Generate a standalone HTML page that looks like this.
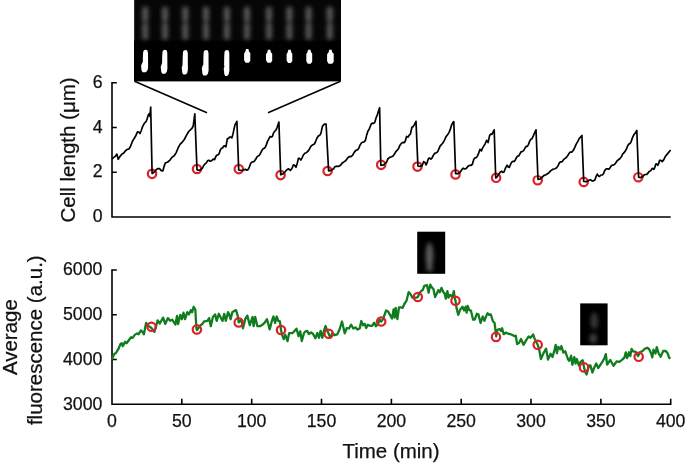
<!DOCTYPE html>
<html><head><meta charset="utf-8"><style>
html,body{margin:0;padding:0;background:#fff;}
svg{display:block;will-change:transform;}
text{font-family:"Liberation Sans",sans-serif;fill:#111;stroke:#111;stroke-width:0.25px;}
</style></head><body>
<svg width="685" height="465" viewBox="0 0 685 465">
<defs>
<filter id="bl" x="-50%" y="-50%" width="200%" height="200%"><feGaussianBlur stdDeviation="1.9"/></filter>
<filter id="bl2" x="-50%" y="-50%" width="200%" height="200%"><feGaussianBlur stdDeviation="0.45"/></filter>
<filter id="bl3" x="-50%" y="-50%" width="200%" height="200%"><feGaussianBlur stdDeviation="2"/></filter>
</defs>
<!-- image strip -->
<rect x="134" y="0" width="207" height="81.4" fill="#000"/>
<rect x="134" y="0" width="207" height="40.5" fill="#060606"/>
<rect x="134" y="0" width="1.2" height="40.5" fill="#2a2a2a"/>
<g filter="url(#bl)"><rect x="142.1" y="6.5" width="6.2" height="15.5" rx="3" fill="#555"/><rect x="142.1" y="22.5" width="6.2" height="14" rx="3" fill="#525252"/><ellipse cx="145.2" cy="37.5" rx="3.4" ry="1.8" fill="#5e5e5e"/><rect x="161.9" y="6.5" width="6.2" height="15.5" rx="3" fill="#555"/><rect x="161.9" y="22.5" width="6.2" height="14" rx="3" fill="#525252"/><ellipse cx="165.0" cy="37.5" rx="3.4" ry="1.8" fill="#5e5e5e"/><rect x="182.2" y="6.5" width="6.2" height="15.5" rx="3" fill="#555"/><rect x="182.2" y="22.5" width="6.2" height="14" rx="3" fill="#525252"/><ellipse cx="185.3" cy="37.5" rx="3.4" ry="1.8" fill="#5e5e5e"/><rect x="202.9" y="6.5" width="6.2" height="15.5" rx="3" fill="#555"/><rect x="202.9" y="22.5" width="6.2" height="14" rx="3" fill="#525252"/><ellipse cx="206.0" cy="37.5" rx="3.4" ry="1.8" fill="#5e5e5e"/><rect x="223.8" y="6.5" width="6.2" height="15.5" rx="3" fill="#555"/><rect x="223.8" y="22.5" width="6.2" height="14" rx="3" fill="#525252"/><ellipse cx="226.9" cy="37.5" rx="3.4" ry="1.8" fill="#5e5e5e"/><rect x="243.9" y="6.5" width="6.2" height="15.5" rx="3" fill="#555"/><rect x="243.9" y="22.5" width="6.2" height="14" rx="3" fill="#525252"/><ellipse cx="247.0" cy="37.5" rx="3.4" ry="1.8" fill="#5e5e5e"/><rect x="265.9" y="6.5" width="6.2" height="15.5" rx="3" fill="#555"/><rect x="265.9" y="22.5" width="6.2" height="14" rx="3" fill="#525252"/><ellipse cx="269.0" cy="37.5" rx="3.4" ry="1.8" fill="#5e5e5e"/><rect x="286.3" y="6.5" width="6.2" height="15.5" rx="3" fill="#555"/><rect x="286.3" y="22.5" width="6.2" height="14" rx="3" fill="#525252"/><ellipse cx="289.4" cy="37.5" rx="3.4" ry="1.8" fill="#5e5e5e"/><rect x="305.5" y="6.5" width="6.2" height="15.5" rx="3" fill="#555"/><rect x="305.5" y="22.5" width="6.2" height="14" rx="3" fill="#525252"/><ellipse cx="308.6" cy="37.5" rx="3.4" ry="1.8" fill="#5e5e5e"/><rect x="326.7" y="6.5" width="6.2" height="15.5" rx="3" fill="#555"/><rect x="326.7" y="22.5" width="6.2" height="14" rx="3" fill="#525252"/><ellipse cx="329.8" cy="37.5" rx="3.4" ry="1.8" fill="#5e5e5e"/></g>
<g filter="url(#bl2)"><path d="M144.0,50.2 L145.6,49.8 L147.3,50.3 L148.0,52.8 L148.1,67.7 L147.4,70.6 L145.8,72.2 L142.6,72.2 L141.6,70.6 L141.3,67.7 L141.0,65.9 L141.8,63.7 L142.8,62.1 L142.9,56.5 L143.2,51.8 Z" fill="#fff"/><path d="M163.3,50.2 L164.9,49.8 L166.6,50.3 L167.3,52.8 L167.4,69.0 L166.7,72.1 L165.1,73.8 L162.3,73.8 L161.3,72.1 L161.0,69.0 L160.7,67.1 L161.5,64.7 L162.1,63.0 L162.2,57.0 L162.5,51.8 Z" fill="#fff"/><path d="M183.8,50.5 L185.4,50.1 L187.1,50.6 L187.8,53.1 L187.9,69.7 L187.2,72.9 L185.6,74.6 L183.3,74.6 L182.3,72.9 L182.0,69.7 L181.7,67.7 L182.5,65.3 L182.6,62.3 L182.7,57.5 L183.0,52.1 Z" fill="#fff"/><path d="M204.5,50.5 L206.1,50.1 L207.8,50.6 L208.5,53.1 L208.6,70.4 L207.9,73.7 L206.3,75.5 L203.4,75.5 L202.4,73.7 L202.1,70.4 L201.8,68.4 L202.6,65.8 L203.3,64.8 L203.4,57.7 L203.7,52.1 Z" fill="#fff"/><path d="M225.3,50.5 L226.9,50.1 L228.6,50.6 L229.3,53.1 L229.4,70.8 L228.7,74.2 L227.1,76.0 L225.3,76.0 L224.3,74.2 L224.0,70.8 L223.7,68.7 L224.5,66.2 L224.1,65.6 L224.2,57.9 L224.5,52.1 Z" fill="#fff"/><path d="M246.0,49.0 L248.4,49.0 L249.0,51.5 L250.3,53.0 L250.3,60.8 L248.8,62.8 L245.6,62.8 L244.1,60.3 L244.1,53.5 L245.4,51.5 Z" fill="#fff"/><path d="M267.9,49.7 L270.3,49.7 L270.9,52.2 L272.2,53.7 L272.2,60.8 L270.7,62.8 L267.5,62.8 L266.0,60.3 L266.0,54.2 L267.3,52.2 Z" fill="#fff"/><path d="M288.3,49.7 L290.7,49.7 L291.3,52.2 L292.3,53.7 L292.3,61.1 L290.8,63.1 L288.1,63.1 L286.6,60.6 L286.6,54.2 L287.7,52.2 Z" fill="#fff"/><path d="M308.1,49.8 L310.4,49.8 L311.1,52.3 L312.2,53.8 L312.2,61.7 L310.7,63.7 L307.8,63.7 L306.3,61.2 L306.3,54.3 L307.4,52.3 Z" fill="#fff"/><path d="M329.2,49.8 L331.6,49.8 L332.2,52.3 L333.7,53.8 L333.7,61.7 L332.2,63.7 L328.6,63.7 L327.1,61.2 L327.1,54.3 L328.6,52.3 Z" fill="#fff"/></g>
<!-- connectors -->
<line x1="134.5" y1="81.2" x2="207" y2="112.8" stroke="#000" stroke-width="1.5"/>
<line x1="340.5" y1="81.2" x2="268" y2="112.8" stroke="#000" stroke-width="1.5"/>
<!-- top axes -->
<path d="M116.8,82.7 H112 V217 H670.7" fill="none" stroke="#000" stroke-width="1.6"/>
<path d="M112,127.5 H116.8 M112,172.2 H116.8" stroke="#000" stroke-width="1.6"/>
<g font-size="17.7" text-anchor="end">
<text x="102.6" y="87.8">6</text>
<text x="102.6" y="132.5">4</text>
<text x="102.6" y="177.3">2</text>
<text x="102.6" y="221.9">0</text>
</g>
<text transform="translate(74.6,149.9) rotate(-90)" font-size="20.5" text-anchor="middle">Cell length (μm)</text>
<!-- top data -->
<g fill="none" stroke="#da2128" stroke-width="2.2">
<circle cx="152.05" cy="173.85" r="4.2"/><circle cx="197" cy="169" r="4.2"/><circle cx="238.8" cy="169.1" r="4.2"/><circle cx="280.6" cy="175.1" r="4.2"/><circle cx="327.6" cy="171" r="4.2"/><circle cx="381.15" cy="164.85" r="4.2"/><circle cx="417.5" cy="166.6" r="4.2"/><circle cx="455.5" cy="174.4" r="4.2"/><circle cx="496.1" cy="177.8" r="4.2"/><circle cx="537.7" cy="180.2" r="4.2"/><circle cx="583.7" cy="181.9" r="4.2"/><circle cx="638.3" cy="177.2" r="4.2"/>
</g>
<polyline points="112.0,159.3 113.4,157.6 115.2,156.4 116.9,154.1 118.2,159.3 120.1,156.2 122.0,154.1 123.8,153.1 125.5,150.7 127.2,149.4 128.9,149.0 130.2,147.1 131.5,143.8 132.8,140.6 134.0,138.7 135.8,135.7 137.5,131.8 138.8,132.0 140.0,133.5 141.3,130.5 142.6,126.6 144.3,123.4 146.1,121.5 147.1,119.0 148.1,115.5 149.2,113.7 149.9,116.3 150.7,107.2 152.1,173.6 154.3,172.0 156.5,169.5 158.1,168.5 159.7,168.7 161.3,170.6 162.9,170.8 164.1,166.4 165.3,163.0 167.8,162.0 170.2,159.8 172.2,157.1 174.2,155.8 176.2,152.6 178.2,147.7 180.2,144.2 182.3,142.1 184.3,139.5 186.3,135.6 188.7,131.5 191.1,129.2 192.1,128.1 193.2,126.0 194.8,113.9 197.0,169.5 198.0,170.2 200.2,169.9 202.5,168.0 203.7,165.5 204.8,164.2 206.3,162.9 207.8,160.5 208.9,160.3 210.1,161.2 211.6,160.7 213.1,159.0 214.6,159.7 215.7,156.6 216.8,155.2 217.9,155.0 219.1,153.7 220.2,150.3 221.4,148.4 222.5,148.0 223.6,146.1 224.8,145.9 225.9,146.9 227.4,138.6 228.5,138.5 229.6,137.1 230.8,137.0 231.9,137.9 232.9,134.2 233.9,129.6 234.9,125.1 236.9,121.3 238.7,170.0 241.2,170.5 243.8,170.0 245.3,169.3 246.8,170.2 247.9,169.7 249.0,168.0 250.6,163.5 251.7,162.2 252.8,162.0 254.3,161.2 255.8,159.0 257.0,156.8 258.1,155.9 259.2,155.4 260.3,153.7 261.8,150.7 263.0,148.7 264.1,148.4 265.2,147.3 266.4,144.6 267.5,141.4 268.6,139.4 270.1,136.4 271.2,137.1 272.4,136.4 273.5,133.1 274.7,131.1 275.8,130.4 276.9,128.1 278.9,122.0 280.7,174.8 283.1,173.8 285.5,171.3 287.1,169.5 288.7,168.9 290.3,170.5 291.9,168.5 293.5,164.8 294.8,165.5 296.0,167.3 297.2,163.5 298.4,158.4 299.6,158.4 300.8,160.0 302.0,158.1 303.2,155.2 304.8,153.3 306.4,152.7 308.0,151.2 309.6,148.7 311.2,145.9 312.9,144.7 314.1,144.3 315.3,142.3 316.9,138.3 318.5,135.8 319.7,135.4 320.9,133.4 322.5,126.1 324.2,124.2 326.1,124.2 328.6,170.8 331.1,170.3 333.6,168.7 334.9,166.7 336.2,166.2 338.4,166.5 340.5,165.3 342.2,162.9 343.9,161.9 345.6,160.8 347.3,158.4 349.1,156.7 350.8,156.7 352.5,155.4 354.2,152.4 355.9,150.4 357.6,149.8 358.9,148.0 360.2,144.7 361.5,142.9 362.8,142.1 364.1,142.0 365.4,140.4 366.7,134.9 368.0,130.9 369.2,129.2 370.5,125.8 371.4,123.7 372.3,123.2 373.6,123.3 374.8,122.3 376.1,117.8 377.4,114.6 379.6,107.7 380.8,165.3 383.6,164.8 386.3,162.7 387.8,159.0 389.7,157.4 391.6,156.7 393.1,155.9 394.6,153.7 396.1,151.3 397.6,149.9 398.7,148.2 399.8,145.4 401.3,143.4 402.8,142.4 404.0,142.8 405.1,141.6 406.6,136.4 408.1,137.1 409.2,135.1 410.4,134.1 411.9,127.3 413.0,126.8 414.1,125.1 416.0,121.3 417.9,166.0 420.0,166.4 422.1,165.6 423.7,161.6 424.9,162.4 426.1,164.8 427.3,162.1 428.5,158.4 429.7,158.1 430.9,159.2 432.1,157.9 433.4,155.2 435.0,153.1 436.6,152.7 437.8,151.5 439.0,148.7 440.2,145.9 441.4,144.7 443.0,142.8 444.6,139.8 446.2,136.4 447.9,134.2 449.1,132.4 450.3,129.4 451.5,125.3 452.7,122.9 453.8,121.6 455.6,173.7 458.0,173.7 460.3,172.0 461.8,169.6 463.3,168.2 464.8,168.9 466.0,168.7 467.1,167.4 468.6,165.7 470.1,165.2 471.2,165.4 472.3,164.4 473.8,159.2 475.0,157.8 476.1,157.7 477.2,156.5 478.4,153.9 479.9,149.4 481.4,150.9 482.5,148.1 483.6,146.4 485.1,143.8 486.6,140.3 488.1,142.6 489.7,135.1 490.8,134.1 491.9,134.3 494.2,129.8 495.7,178.0 497.2,176.7 498.8,174.2 500.3,172.0 501.8,171.2 502.9,172.5 504.0,172.0 505.6,167.8 507.1,165.2 508.2,167.0 509.3,167.4 510.8,163.7 512.0,161.8 513.1,161.4 514.2,161.4 515.3,159.9 516.5,157.5 517.6,156.1 518.8,155.9 519.9,153.9 521.0,151.9 522.1,151.6 523.6,150.6 525.1,147.9 526.2,146.3 527.4,146.4 528.5,144.4 529.7,141.1 530.8,139.3 531.9,138.8 533.0,136.7 534.2,133.6 536.0,129.8 538.0,179.5 540.1,179.0 542.3,177.0 544.1,175.4 546.0,174.7 548.3,173.3 550.6,170.9 552.9,169.3 555.1,168.7 556.6,167.7 558.1,165.7 559.2,163.2 560.4,161.9 561.5,162.0 562.6,161.1 564.1,159.1 565.6,158.1 567.5,156.0 569.4,152.9 570.5,152.0 571.7,152.1 573.2,150.5 574.7,147.6 576.2,144.1 577.7,141.6 579.2,138.6 581.9,135.5 583.7,181.5 586.4,181.7 589.0,180.2 590.5,179.8 592.0,180.9 593.5,180.9 595.0,179.8 596.1,176.4 597.3,174.1 598.4,175.9 599.5,176.4 601.0,175.0 602.6,174.9 603.7,173.2 604.8,170.4 606.3,168.8 607.8,168.9 609.0,169.2 610.1,167.8 611.2,165.8 612.3,165.1 613.8,165.0 615.3,163.6 616.8,161.2 618.3,159.8 619.8,158.8 621.4,156.8 622.5,154.3 623.6,153.1 625.1,151.4 626.6,148.6 627.8,145.5 628.9,144.1 630.0,143.5 631.1,141.8 632.6,137.3 633.8,134.9 634.9,133.5 636.8,130.5 638.6,177.1 640.8,177.6 642.9,176.4 644.2,174.8 645.5,174.5 646.8,174.4 648.0,173.2 649.0,171.5 650.0,171.2 651.0,170.4 651.9,168.7 652.8,168.3 653.8,169.3 654.8,167.6 655.8,164.1 656.8,163.9 657.7,165.4 658.7,163.6 659.6,160.3 660.9,160.4 662.2,161.6 663.8,159.6 665.4,156.4 670.6,150.0" fill="none" stroke="#000" stroke-width="1.7" stroke-linejoin="round"/>
<!-- bottom axes -->
<path d="M116.8,270 H112 V404.3 H670.7 V398.8" fill="none" stroke="#000" stroke-width="1.6"/>
<path d="M112,314.8 H116.8 M112,359.5 H116.8 M181.8,404.3 V398.8 M251.7,404.3 V398.8 M321.5,404.3 V398.8 M391.4,404.3 V398.8 M461.2,404.3 V398.8 M531.0,404.3 V398.8 M600.9,404.3 V398.8" stroke="#000" stroke-width="1.6"/>
<g font-size="17.7" text-anchor="end">
<text x="102.4" y="275.2">6000</text>
<text x="102.4" y="320">5000</text>
<text x="102.4" y="364.7">4000</text>
<text x="102.4" y="409.8">3000</text>
</g>
<g font-size="17.7" text-anchor="middle">
<text x="112.0" y="426.5">0</text><text x="181.8" y="426.5">50</text><text x="251.7" y="426.5">100</text><text x="321.5" y="426.5">150</text><text x="391.4" y="426.5">200</text><text x="461.2" y="426.5">250</text><text x="531.0" y="426.5">300</text><text x="600.9" y="426.5">350</text><text x="670.7" y="426.5">400</text>
</g>
<text x="391" y="458.2" font-size="20.5" text-anchor="middle">Time (min)</text>
<text transform="translate(17.2,337.1) rotate(-90)" font-size="20.5" text-anchor="middle">Average</text>
<text transform="translate(42.4,340.2) rotate(-90)" font-size="20.5" text-anchor="middle">fluorescence (a.u.)</text>
<!-- insets -->
<rect x="417.2" y="231.7" width="28" height="42.1" fill="#000"/>
<g filter="url(#bl3)"><ellipse cx="429.5" cy="256" rx="3.8" ry="13.5" fill="#5c5c5c"/><ellipse cx="429.5" cy="269" rx="3.5" ry="1.8" fill="#666"/></g>
<rect x="580.2" y="303.4" width="27.4" height="41.9" fill="#000"/>
<g filter="url(#bl3)"><ellipse cx="594.3" cy="321" rx="3.6" ry="8.5" fill="#383838"/><ellipse cx="593.3" cy="338.5" rx="3.6" ry="5" fill="#444"/></g>
<!-- bottom data -->
<polyline points="112.0,359.5 113.0,356.7 114.5,353.7 116.0,353.0 118.3,349.2 120.5,344.0 121.7,343.2 122.8,346.2 125.1,341.7 126.6,343.2 128.8,340.2 131.1,337.2 132.6,337.9 134.8,334.9 137.1,333.4 138.6,334.2 140.9,330.4 142.4,331.9 143.9,334.2 146.1,322.9 148.4,325.9 151.5,328.0 154.4,331.9 156.1,326.2 157.7,320.3 159.8,323.5 163.1,317.6 165.2,324.0 167.9,318.1 170.1,320.8 172.2,319.7 175.4,324.6 177.0,316.0 178.1,324.0 180.3,314.9 181.9,319.2 183.5,312.7 185.1,319.2 187.3,312.2 188.9,314.4 191.0,310.1 192.1,312.2 193.7,306.8 195.3,309.5 196.4,328.3 197.0,330.0 200.2,325.6 202.3,324.0 204.3,321.3 207.5,320.8 209.1,318.1 210.8,326.2 212.9,317.0 215.1,314.4 216.7,320.8 218.8,313.8 221.0,318.1 222.6,320.8 224.2,313.8 225.8,320.8 228.0,312.2 229.0,313.8 230.6,319.2 232.3,312.2 233.9,311.1 236.0,310.1 237.6,315.4 238.7,322.4 241.4,319.7 243.0,328.3 245.2,319.2 247.3,315.6 249.8,325.1 252.5,317.0 253.6,326.2 255.2,317.0 257.4,326.2 260.1,326.2 262.7,324.6 264.9,322.4 267.0,319.2 269.7,329.4 271.9,320.8 273.5,316.5 275.1,323.0 276.7,316.5 278.3,320.8 279.9,321.3 281.0,330.0 282.1,334.8 283.7,339.1 285.3,334.8 287.5,341.2 289.1,333.2 292.3,333.2 293.2,332.4 296.5,328.7 298.6,336.2 300.2,331.3 301.8,341.0 304.0,333.0 305.6,331.3 307.2,330.8 308.8,334.0 311.0,332.4 313.1,334.0 315.3,338.3 317.4,333.0 319.0,337.8 320.6,330.8 322.3,337.8 323.9,330.8 325.5,326.0 327.1,330.3 328.7,333.8 330.3,337.8 332.5,333.0 334.6,335.1 337.2,334.4 339.3,330.1 342.0,321.5 344.7,333.3 346.8,328.0 349.0,328.5 351.1,324.7 353.3,328.5 355.4,327.4 357.6,329.6 359.7,328.5 361.3,321.0 363.0,325.3 364.6,323.7 366.2,328.0 367.8,324.7 369.9,325.8 372.1,325.8 374.2,322.6 375.9,326.3 378.0,324.0 379.6,319.6 381.2,321.5 382.8,319.6 386.1,310.5 388.2,311.6 392.0,318.5 393.6,309.4 394.7,317.5 395.7,307.8 397.4,319.1 399.0,307.3 400.6,307.3 402.7,307.8 404.3,304.0 406.5,300.8 408.6,292.2 410.3,293.8 412.4,297.6 416.7,297.6 417.8,297.0 419.4,293.3 421.1,291.1 422.7,290.1 424.3,285.8 427.0,285.2 428.6,292.7 430.2,284.7 431.8,287.4 433.4,289.0 435.1,297.0 436.7,293.8 438.3,290.1 439.9,292.2 441.5,287.9 443.1,291.7 444.7,293.8 445.8,298.7 447.4,291.1 448.5,297.6 450.1,294.9 452.3,297.0 453.9,291.1 454.4,296.0 455.5,300.8 456.6,308.3 458.2,314.8 460.3,309.4 462.5,306.7 464.1,310.5 465.7,306.7 466.6,312.7 467.7,305.8 469.3,310.1 470.9,310.6 473.1,319.7 474.7,319.7 476.8,313.8 478.4,314.4 480.6,323.0 482.7,316.5 484.4,320.8 486.0,316.5 487.6,313.3 489.2,314.9 490.8,314.4 493.0,321.3 494.6,323.0 495.6,331.6 496.2,336.4 497.3,330.0 499.4,328.9 501.0,331.0 502.1,328.3 503.7,334.2 505.9,332.6 508.0,333.7 510.2,334.2 512.5,335.0 514.5,336.2 515.8,335.8 517.1,344.1 519.0,342.9 521.0,339.0 523.5,344.8 526.1,340.3 528.7,336.4 530.6,337.7 533.2,334.5 534.5,338.4 536.4,342.2 537.7,344.8 539.0,348.7 540.9,359.0 543.5,353.2 546.1,348.7 548.0,359.6 550.6,353.8 552.5,357.0 554.5,350.0 555.7,344.8 556.9,353.2 558.2,346.8 560.2,349.3 561.4,346.1 563.4,352.6 565.3,351.3 567.9,359.0 569.2,360.9 571.1,355.8 572.4,364.8 574.3,357.1 575.6,363.5 576.9,359.0 578.8,365.4 580.8,361.6 582.7,360.3 584.0,367.4 585.3,371.9 586.6,374.5 589.1,365.4 590.4,365.4 592.4,372.5 594.3,367.4 596.2,363.5 598.2,368.0 600.6,364.5 602.6,361.3 604.5,358.1 605.8,354.2 607.1,364.5 610.3,360.0 613.5,365.8 616.8,361.3 619.4,361.9 622.6,359.4 624.5,357.4 625.8,352.3 627.1,358.1 629.0,352.3 630.3,356.1 631.6,349.0 633.5,351.6 635.5,351.6 638.1,356.1 640.0,352.3 642.6,351.0 644.5,349.0 647.1,347.7 649.0,349.0 651.0,352.9 652.3,357.4 653.5,349.7 655.5,353.5 656.8,347.1 658.7,353.5 660.6,356.8 663.2,351.0 665.8,351.0 667.7,353.5 669.0,357.4 670.3,358.7" fill="none" stroke="#0f7d1e" stroke-width="2.3" stroke-linejoin="round"/>
<g fill="none" stroke="#da2128" stroke-width="2.2">
<circle cx="151.5" cy="326.8" r="4.2"/><circle cx="196.9" cy="329.4" r="4.2"/><circle cx="238.7" cy="322.4" r="4.2"/><circle cx="281" cy="330" r="4.2"/><circle cx="328.7" cy="333.8" r="4.2"/><circle cx="381.2" cy="321.5" r="4.2"/><circle cx="417.8" cy="297" r="4.2"/><circle cx="455.5" cy="300.8" r="4.2"/><circle cx="496" cy="336.9" r="4.2"/><circle cx="537.7" cy="344.8" r="4.2"/><circle cx="584" cy="367.4" r="4.2"/><circle cx="638.7" cy="356.8" r="4.2"/>
</g>
</svg>
</body></html>
